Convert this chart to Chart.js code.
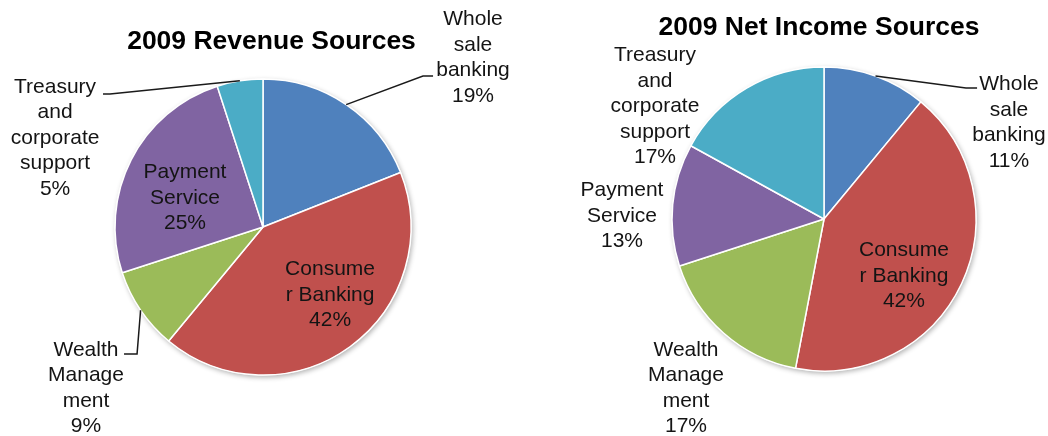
<!DOCTYPE html>
<html>
<head>
<meta charset="utf-8">
<title>2009 Revenue and Net Income Sources</title>
<script src="https://cdn.jsdelivr.net/npm/chart.js@4/dist/chart.umd.min.js"></script>
<style>
  html, body { margin: 0; padding: 0; background: #ffffff; }
  #wrap { display: flex; width: 1048px; height: 436px; overflow: hidden; }
  canvas { display: block; }
</style>
</head>
<body>
<div id="wrap">
  <canvas id="revenue" width="524" height="436"></canvas>
  <canvas id="income" width="524" height="436"></canvas>
</div>
<script>
// Business segments (line breaks as wrapped in the slice labels)
const categories = [
  ['Whole', 'sale', 'banking'],
  ['Consume', 'r Banking'],
  ['Wealth', 'Manage', 'ment'],
  ['Payment', 'Service'],
  ['Treasury', 'and', 'corporate', 'support']
];

// Share of 2009 revenue, percent
const revenueShare = [19, 42, 9, 25, 5];

// Share of 2009 net income, percent
const netIncomeShare = [11, 42, 17, 13, 17];

const sliceColors = ['#4F81BD', '#C0504D', '#9BBB59', '#8064A2', '#4BACC6'];

const LABEL_FONT = '21px "Liberation Sans", Arial, Helvetica, sans-serif';
const TITLE_FONT = 'bold 26.5px "Liberation Sans", Arial, Helvetica, sans-serif';
const LINE_H = 25.5;
const BORDER_W = 1.5;

// Label placement, in units of the pie radius relative to its centre.
// leader: elbow point and end point of the connector line (start is the slice edge).
const revenueLabels = [
  { dx: 1.419, dy: -1.145, leader: [[1.081, -1.020], [1.149, -1.020]] },
  { dx: 0.453, dy: 0.459 },
  { dx: -1.196, dy: 1.088, leader: [[-0.851, 0.858], [-0.939, 0.858]] },
  { dx: -0.527, dy: -0.196 },
  { dx: -1.405, dy: -0.601, leader: [[-1.034, -0.899], [-1.081, -0.899]] }
];

const incomeLabels = [
  { dx: 1.217, dy: -0.635, leader: [[0.934, -0.862], [1.007, -0.862]] },
  { dx: 0.526, dy: 0.375 },
  { dx: -0.908, dy: 1.112 },
  { dx: -1.329, dy: -0.020 },
  { dx: -1.112, dy: -0.739 }
];

// Draws the soft drop shadow under the pie, then the title, labels and leader lines.
const pieDecor = {
  id: 'pieDecor',
  beforeDatasetsDraw(chart) {
    const meta = chart.getDatasetMeta(0);
    if (!meta.data.length) return;
    const { x, y, outerRadius } = meta.data[0];
    const ctx = chart.ctx;
    ctx.save();
    ctx.shadowColor = 'rgba(0,0,0,0.30)';
    ctx.shadowBlur = 5;
    ctx.shadowOffsetX = 1.5;
    ctx.shadowOffsetY = 2;
    ctx.fillStyle = '#ffffff';
    ctx.beginPath();
    ctx.arc(x, y, outerRadius + 0.5, 0, Math.PI * 2);
    ctx.fill();
    ctx.restore();
  },
  afterDatasetsDraw(chart, args, opts) {
    const ctx = chart.ctx;
    const meta = chart.getDatasetMeta(0);
    const values = chart.data.datasets[0].data;
    const labels = chart.data.labels;

    ctx.save();
    // title
    ctx.font = TITLE_FONT;
    ctx.fillStyle = '#000000';
    ctx.textAlign = 'center';
    ctx.textBaseline = 'alphabetic';
    ctx.fillText(opts.title, opts.titleX, opts.titleBaseline);

    meta.data.forEach((arc, i) => {
      const place = opts.placement[i];
      const { x, y, outerRadius: R, startAngle, endAngle } = arc;

      if (place.leader) {
        const mid = (startAngle + endAngle) / 2;
        ctx.beginPath();
        ctx.moveTo(x + R * Math.cos(mid), y + R * Math.sin(mid));
        place.leader.forEach(([lx, ly]) => ctx.lineTo(x + lx * R, y + ly * R));
        ctx.strokeStyle = '#1a1a1a';
        ctx.lineWidth = 1.5;
        ctx.stroke();
      }

      const lines = [...labels[i], values[i] + '%'];
      const cx = x + place.dx * R;
      const cy = y + place.dy * R;
      ctx.font = LABEL_FONT;
      ctx.fillStyle = '#141414';
      ctx.textAlign = 'center';
      ctx.textBaseline = 'middle';
      const top = cy - (lines.length - 1) * LINE_H / 2;
      lines.forEach((t, k) => ctx.fillText(t, cx, top + k * LINE_H));
    });
    ctx.restore();
  }
};

function makePie(canvasId, values, placement, frame) {
  const { cx, cy, r, title, titleX, titleBaseline } = frame;
  const canvas = document.getElementById(canvasId);
  const half = r + BORDER_W / 2;
  return new Chart(canvas, {
    type: 'pie',
    data: {
      labels: categories,
      datasets: [{
        data: values,
        backgroundColor: sliceColors,
        borderColor: '#ffffff',
        borderWidth: BORDER_W
      }]
    },
    options: {
      responsive: false,
      animation: false,
      events: [],
      layout: {
        padding: {
          left: cx - half,
          right: canvas.width - cx - half,
          top: cy - half,
          bottom: canvas.height - cy - half
        }
      },
      plugins: {
        legend: { display: false },
        tooltip: { enabled: false },
        title: { display: false },
        pieDecor: { title, titleX, titleBaseline, placement }
      }
    },
    plugins: [pieDecor]
  });
}

makePie('revenue', revenueShare, revenueLabels, {
  cx: 263, cy: 227, r: 148,
  title: '2009 Revenue Sources', titleX: 271.5, titleBaseline: 49
});

makePie('income', netIncomeShare, incomeLabels, {
  cx: 300, cy: 219, r: 152,
  title: '2009 Net Income Sources', titleX: 295, titleBaseline: 35
});
</script>
</body>
</html>
